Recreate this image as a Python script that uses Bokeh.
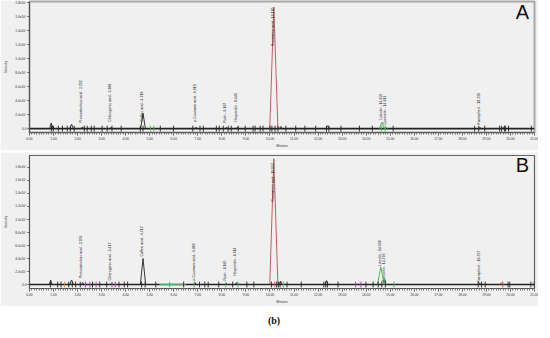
import numpy as np
from bokeh.plotting import figure
from bokeh.models import (FixedTicker, NumeralTickFormatter, Label, Div,
                          ColumnDataSource, Range1d)
from bokeh.layouts import column
from bokeh.embed import file_html
from bokeh.resources import INLINE
from bokeh.core.properties import value

# ---------------- axis ticks ----------------
x_ticks = [float(i) for i in range(22)]
y_ticks = [0, 2e5, 4e5, 6e5, 8e5, 1.0e6, 1.2e6, 1.4e6, 1.6e6, 1.8e6]
y_tick_labels = ["0.0", "2.0x10⁵", "4.0x10⁵", "6.0x10⁵", "8.0x10⁵",
                 "1.0x10⁶", "1.2x10⁶", "1.4x10⁶", "1.6x10⁶", "1.8x10⁶"]

# ---------------- panel A ----------------
a_peak_t = [0.90, 0.96, 1.75, 2.20, 3.39, 4.72, 6.92, 8.19, 8.64, 10.16, 10.45, 12.40, 14.65, 14.81, 18.73, 19.70]
a_peak_h = [8e4, 4e4, 6e4, 2.5e4, 1.5e4, 2.2e5, 2e4, 1.5e4, 2e4, 1.74e6, 3e4, 4e4, 9e4, 3e4, 1.5e4, 1.5e4]
a_peak_w = [0.06, 0.05, 0.08, 0.05, 0.05, 0.10, 0.05, 0.05, 0.05, 0.17, 0.06, 0.08, 0.10, 0.06, 0.05, 0.05]
a_peak_c = ["#222", "#222", "#222", "#222", "#222", "#222", "#222", "#222", "#222", "#b5514f",
            "#222", "#222", "#4caf50", "#4caf50", "#222", "#222"]
a_label_text = ["Protocatechuic acid - 2.202", "Chlorogenic acid - 3.388", "Caffeic acid - 4.718",
                "p-Coumaric acid - 6.919", "Rutin - 8.187", "Hesperidin - 8.640",
                "Rosmarinic acid - 10.160", "Luteolin - 14.650", "Quercetin - 14.813",
                "Kaempferol - 18.729"]
a_label_t = [2.202, 3.388, 4.718, 6.919, 8.187, 8.640, 10.160, 14.650, 14.813, 18.729]
a_label_y = [8.4e4, 9.8e4, 9.8e4, 9.8e4, 8.4e4, 9.8e4, 1.18e6, 1.26e5, 5.6e4, 5.6e4]
a_marker_t = [0.91, 0.99, 1.20, 1.37, 1.57, 1.70, 1.86, 2.28, 2.40, 2.57, 2.69, 3.02, 3.23, 3.43, 3.81,
              4.61, 4.72, 5.03, 5.17, 5.44, 5.99, 6.79, 7.09, 7.23, 7.77, 7.89, 8.06, 8.26, 8.39, 8.68,
              8.97, 9.30, 9.38, 9.59, 9.71, 10.00, 10.08, 10.21, 10.33, 10.66, 11.07, 11.45, 11.90,
              12.35, 12.45, 12.95, 13.72, 14.26, 14.63, 14.79, 15.12, 18.51, 18.68, 18.93, 19.55,
              19.63, 19.75, 19.79, 19.92, 20.87]
a_marker_c = ["#222"] * 17 + ["#4caf50", "#4caf50"] + ["#222"] * 29 + ["#4caf50", "#4caf50"] + ["#222"] * 10

# ---------------- panel B ----------------
b_peak_t = [0.88, 1.75, 2.21, 3.42, 4.72, 6.88, 8.18, 8.61, 10.16, 10.45, 12.35, 14.61, 14.78, 18.73, 19.62]
b_peak_h = [7e4, 7e4, 3e4, 2e4, 4.0e5, 3e4, 2e4, 3e4, 1.93e6, 5e4, 6e4, 2.7e5, 8e4, 2e4, 3e4]
b_peak_w = [0.06, 0.08, 0.05, 0.05, 0.11, 0.05, 0.05, 0.05, 0.17, 0.06, 0.07, 0.14, 0.06, 0.05, 0.06]
b_peak_c = ["#222", "#222", "#222", "#222", "#222", "#222", "#222", "#222", "#b5514f", "#222",
            "#222", "#4caf50", "#4caf50", "#222", "#c0504d"]
b_label_text = ["Protocatechuic acid - 2.206", "Chlorogenic acid - 3.417", "Caffeic acid - 4.717",
                "p-Coumaric acid - 6.882", "Rutin - 8.180", "Hesperidin - 8.614",
                "Rosmarinic acid - 10.157", "Luteolin - 14.609", "Quercetin - 14.778",
                "Kaempferol - 18.727"]
b_label_t = [2.206, 3.417, 4.717, 6.882, 8.180, 8.614, 10.157, 14.609, 14.778, 18.727]
b_label_y = [1.0e5, 6e4, 4.3e5, 6e4, 6e4, 1.3e5, 1.27e6, 2.8e5, 3e4, 3e4]
b_marker_t = [0.87, 1.17, 1.31, 1.46, 1.63, 1.78, 1.92, 2.11, 2.33, 2.51, 2.62, 2.77, 2.92, 3.21,
              3.43, 3.57, 3.72, 3.94, 4.08, 4.66, 4.81, 5.25, 5.83, 6.41, 6.85, 7.07, 7.29, 7.43,
              7.87, 8.16, 8.45, 8.67, 9.04, 9.33, 10.06, 10.20, 10.28, 10.35, 10.42, 10.57, 10.71,
              11.30, 12.24, 12.32, 12.39, 12.83, 13.56, 13.78, 13.99, 14.29, 14.50, 14.65, 14.80,
              15.16, 18.66, 18.80, 18.95, 19.68, 19.90, 19.97, 20.85, 20.99]
K, P, G, R, O = "#222", "#9b3fa6", "#4caf50", "#c0504d", "#d08a30"
b_marker_c = [K, K, K, O, K, K, K, K, P, P, K, P, K, K,
              P, P, K, K, K, K, K, K, G, K, G, K, K, K,
              K, G, K, G, K, K, K, R, K, K, K, G, K,
              K, K, K, K, K, P, P, K, K, K, K, K,
              G, K, K, K, R, K, K, K, K]
b_base_seg_start = [5.40]
b_base_seg_end = [6.50]

FONT = value("Liberation Sans")


def make_panel(peak_t, peak_h, peak_w, peak_c, lab_text, lab_t, lab_y, mark_t, mark_c,
               letter, letter_y, y0, y1, height, top, bottom, mark_half, outline, outline_w,
               seg_s=None, seg_e=None):
    p = figure(width=538, height=height, output_backend="svg", toolbar_location=None,
               x_range=Range1d(0, 21), y_range=Range1d(y0, y1),
               min_border_left=27, min_border_right=4, min_border_top=top,
               min_border_bottom=bottom)
    p.background_fill_color = "#f0f0f0"
    p.border_fill_color = "#f0f0f0"
    p.outline_line_color = outline
    p.outline_line_width = outline_w
    p.xgrid.visible = False
    p.ygrid.visible = False

    # axes
    minor = [round(v, 2) for v in np.arange(0, 21.001, 0.1)]
    p.xaxis.ticker = FixedTicker(ticks=x_ticks, minor_ticks=minor)
    p.xaxis.formatter = NumeralTickFormatter(format="0.00")
    p.xaxis.axis_label = "Minutes"
    p.yaxis.axis_label = "Intensity"
    p.yaxis.ticker = FixedTicker(ticks=y_ticks)
    p.yaxis.major_label_overrides = {float(k): v for k, v in zip(y_ticks, y_tick_labels)}
    for ax in (p.xaxis, p.yaxis):
        ax.major_label_text_font_size = "3.3px"
        ax.major_label_text_font = "Liberation Sans"
        ax.major_label_text_color = "#333"
        ax.axis_label_text_font_size = "3.3px"
        ax.axis_label_text_font = "Liberation Sans"
        ax.axis_label_text_font_style = "normal"
        ax.axis_label_text_color = "#333"
        ax.axis_line_color = "#555"
        ax.major_tick_line_color = "#555"
        ax.minor_tick_line_color = "#777"
        ax.major_tick_in = 0
        ax.minor_tick_in = 0
        ax.major_label_standoff = 1
    p.xaxis.major_tick_out = 3
    p.xaxis.minor_tick_out = 2
    p.xaxis.axis_label_standoff = 1
    p.yaxis.major_tick_out = 2
    p.yaxis.minor_tick_out = 0
    p.yaxis.axis_label_standoff = 5

    # baseline
    p.line([0, 21], [0, 0], line_color="#222", line_width=1.6)
    if seg_s:
        p.segment(x0=seg_s, y0=[0] * len(seg_s), x1=seg_e, y1=[0] * len(seg_e),
                  line_color="#5aa85a", line_width=1.0)

    # peaks as triangles
    xs = [[t - w, t, t + w] for t, w in zip(peak_t, peak_w)]
    ys = [[0, h, 0] for h in peak_h]
    src = ColumnDataSource(dict(xs=xs, ys=ys, c=peak_c))
    p.multi_line("xs", "ys", source=src, line_color="c", line_width=0.9)

    # baseline markers
    msrc = ColumnDataSource(dict(x=mark_t, y0=[-mark_half] * len(mark_t),
                                 y1=[mark_half] * len(mark_t), c=mark_c))
    p.segment(x0="x", y0="y0", x1="x", y1="y1", source=msrc, line_color="c", line_width=0.9)

    # peak labels
    lsrc = ColumnDataSource(dict(x=[t - 0.05 for t in lab_t], y=lab_y, text=lab_text))
    p.text(x="x", y="y", text="text", source=lsrc, angle=np.pi / 2,
           text_align="left", text_baseline="middle", text_font=FONT,
           text_font_size="3.5px", text_color="#111")

    p.add_layout(Label(x=20.5, y=letter_y, text=letter, text_align="center",
                       text_baseline="middle", text_font_size="20px",
                       text_font="Liberation Sans", text_color="#111"))
    return p


pa = make_panel(a_peak_t, a_peak_h, a_peak_w, a_peak_c, a_label_text, a_label_t, a_label_y,
                a_marker_t, a_marker_c, "A", 1.67e6, -5.6e4, 1.82e6, 150, 1, 15, 4.2e4,
                "#a8a8a8", 2)
pb = make_panel(b_peak_t, b_peak_h, b_peak_w, b_peak_c, b_label_text, b_label_t, b_label_y,
                b_marker_t, b_marker_c, "B", 1.83e6, -6.1e4, 1.98e6, 154, 3, 17, 4.5e4,
                "#666666", 1.2, b_base_seg_start, b_base_seg_end)

cap = Div(text="<b>(b)</b>", width=538, height=16,
          styles={"text-align": "center", "font-family": "'Liberation Serif', serif",
                  "font-size": "10px", "color": "#111", "line-height": "16px"})

layout = column(pa, pb, cap, spacing=2)
open("out.html", "w").write(file_html(layout, INLINE))
